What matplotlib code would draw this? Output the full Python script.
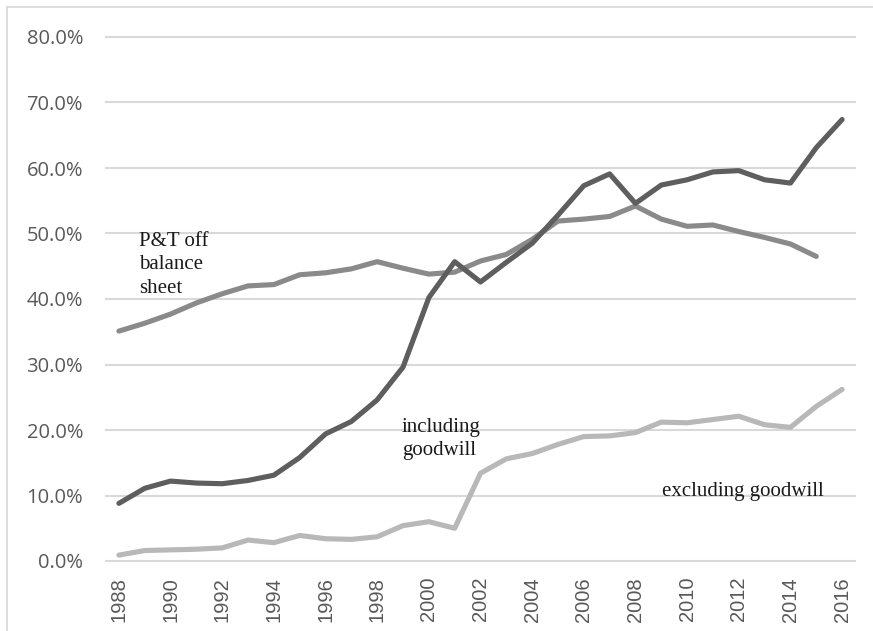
import matplotlib
matplotlib.use("Agg")
import matplotlib.pyplot as plt
from matplotlib.lines import Line2D

years = list(range(1988, 2017))
including_goodwill = [8.8, 11.1, 12.2, 11.9, 11.8, 12.3, 13.1, 15.8, 19.4, 21.3,
                      24.6, 29.6, 40.2, 45.7, 42.6, 45.6, 48.5, 52.8, 57.3, 59.1,
                      54.6, 57.4, 58.2, 59.4, 59.6, 58.2, 57.7, 63.1, 67.4]
pt_off_balance = [35.1, 36.3, 37.7, 39.4, 40.8, 42.0, 42.2, 43.7, 44.0, 44.6,
                  45.7, 44.7, 43.8, 44.1, 45.8, 46.8, 49.1, 51.9, 52.2, 52.6,
                  54.2, 52.2, 51.1, 51.3, 50.3, 49.4, 48.4, 46.5]
excluding_goodwill = [0.9, 1.6, 1.7, 1.8, 2.0, 3.2, 2.8, 3.9, 3.4, 3.3,
                      3.7, 5.4, 6.0, 5.0, 13.4, 15.6, 16.4, 17.8, 19.0, 19.1,
                      19.6, 21.2, 21.1, 21.6, 22.1, 20.8, 20.4, 23.6, 26.2]
y_ticks = [0, 10, 20, 30, 40, 50, 60, 70, 80]

W, H = 873, 631
fig = plt.figure(figsize=(W / 100, H / 100), dpi=100)
fig.patch.set_facecolor("white")

# chart-area border (left and top visible)
fig.add_artist(Line2D([7 / W, 7 / W], [0, 1 - 7 / H], color="#d9d9d9", lw=1.2))
fig.add_artist(Line2D([7 / W, 1], [1 - 7 / H, 1 - 7 / H], color="#d9d9d9", lw=1.2))

ax = fig.add_axes([106 / W, 1 - 561 / H, (855 - 106) / W, (561 - 37) / H])
x = list(range(len(years)))

ax.plot(x[:len(pt_off_balance)], pt_off_balance, color="#8a8a8a", lw=3.7,
        solid_capstyle="round", solid_joinstyle="round", zorder=3)
ax.plot(x, excluding_goodwill, color="#b8b8b8", lw=3.7,
        solid_capstyle="round", solid_joinstyle="round", zorder=3)
ax.plot(x, including_goodwill, color="#5e5e5e", lw=3.7,
        solid_capstyle="round", solid_joinstyle="round", zorder=4)

ax.set_xlim(-0.5, len(years) - 0.5)
ax.set_ylim(0, 80)
ax.set_yticks(y_ticks)
ax.set_yticklabels([f"{v:.1f}%" for v in y_ticks], family="Open Sans",
                   fontsize=14.5, color="#595959")
ax.set_xticks(x[::2])
ax.set_xticklabels([str(y) for y in years[::2]], rotation=90,
                   family="Liberation Sans", fontsize=14.5, color="#595959")
ax.tick_params(axis="y", length=0, pad=16.5)
ax.tick_params(axis="x", length=0, pad=11.5)

for s in ax.spines.values():
    s.set_visible(False)
ax.yaxis.grid(True, color="#d9d9d9", lw=1.5)
for gl in ax.get_ygridlines():
    gl.set_clip_on(False)
ax.set_axisbelow(True)

serif = "Liberation Serif"
ax.text(139 / W, 1 - 232 / H, "P&T off\nbalance\nsheet", transform=fig.transFigure,
        family=serif, fontsize=15, color="#1a1a1a", va="top", ha="left",
        linespacing=1.32)
ax.text(402 / W, 1 - 418 / H, "including\ngoodwill", transform=fig.transFigure,
        family=serif, fontsize=15, color="#1a1a1a", va="top", ha="left",
        linespacing=1.32)
ax.text(662 / W, 1 - 482 / H, "excluding goodwill", transform=fig.transFigure,
        family=serif, fontsize=15, color="#1a1a1a", va="top", ha="left")

fig.savefig("out.png", dpi=100, facecolor="white")
